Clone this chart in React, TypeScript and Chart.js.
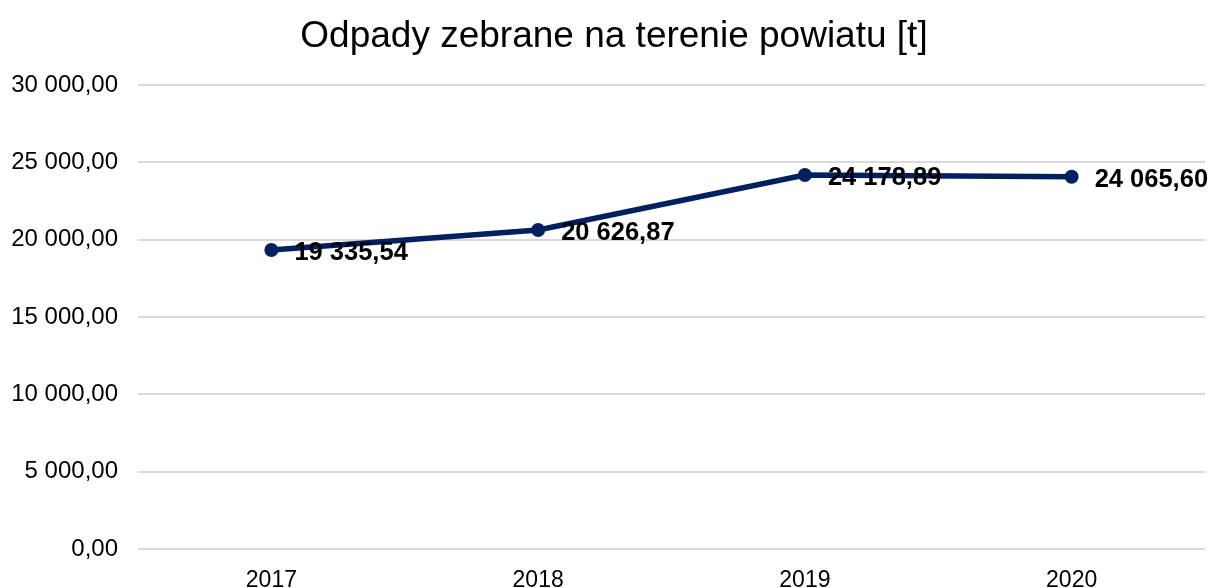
import React, { useEffect, useRef } from "react";
import { Chart, registerables } from "chart.js";

Chart.register(...registerables);

const categories = ["2017", "2018", "2019", "2020"];
const values = [19335.54, 20626.87, 24178.89, 24065.6];
const yTicks = [0, 5000, 10000, 15000, 20000, 25000, 30000];
const titleText = "Odpady zebrane na terenie powiatu [t]";

const FONT = "'Liberation Sans', Arial, sans-serif";
const NAVY = "#002060";

function fmt(v: number): string {
  const fixed = v.toFixed(2);
  const [intPart, dec] = fixed.split(".");
  const withSep = intPart.replace(/\B(?=(\d{3})+(?!\d))/g, " ");
  return withSep + "," + dec;
}

const dataLabelPlugin = {
  id: "dataLabels",
  afterDatasetsDraw(chart: any) {
    const ctx = chart.ctx;
    const meta = chart.getDatasetMeta(0);
    ctx.save();
    ctx.font = `bold 25.5px ${FONT}`;
    ctx.fillStyle = "#000000";
    ctx.textAlign = "left";
    ctx.textBaseline = "middle";
    meta.data.forEach((pt: any, i: number) => {
      ctx.fillText(fmt(values[i]), pt.x + 23, pt.y + 3);
    });
    ctx.restore();
  },
};

const titlePlugin = {
  id: "customTitle",
  afterDraw(chart: any) {
    const ctx = chart.ctx;
    ctx.save();
    ctx.font = `37px ${FONT}`;
    ctx.fillStyle = "#000000";
    ctx.textAlign = "center";
    ctx.textBaseline = "middle";
    ctx.fillText(titleText, 614, 37);
    ctx.restore();
  },
};

export default function App() {
  const ref = useRef<HTMLCanvasElement | null>(null);
  useEffect(() => {
    document.body.style.margin = "0";
    if (!ref.current) return;
    const chart = new Chart(ref.current, {
      type: "line",
      data: {
        labels: categories,
        datasets: [
          {
            data: values,
            borderColor: NAVY,
            backgroundColor: NAVY,
            borderWidth: 5.5,
            pointRadius: 7,
            pointBackgroundColor: NAVY,
            pointBorderWidth: 0,
            tension: 0,
          },
        ],
      },
      options: {
        animation: false,
        responsive: false,
        devicePixelRatio: 1,
        layout: { padding: { left: 0, right: 11, top: 85, bottom: 0 } },
        plugins: {
          legend: { display: false },
          tooltip: { enabled: false },
          title: { display: false },
        },
        scales: {
          x: {
            type: "category",
            offset: true,
            grid: { display: false, drawTicks: false },
            border: { display: false },
            ticks: {
              color: "#000000",
              font: { family: FONT, size: 23 },
              padding: 18,
              maxRotation: 0,
            },
            afterFit: (s: any) => {
              s.height = 39;
            },
          },
          y: {
            min: 0,
            max: 30000,
            grid: { color: "#d9d9d9", lineWidth: 2, drawTicks: false },
            border: { display: false },
            afterBuildTicks: (s: any) => {
              s.ticks = yTicks.map((v) => ({ value: v }));
            },
            ticks: {
              color: "#000000",
              font: { family: FONT, size: 24 },
              padding: 20,
              callback: (v: any) => fmt(Number(v)),
            },
            afterFit: (s: any) => {
              s.width = 138;
            },
          },
        },
      },
      plugins: [dataLabelPlugin, titlePlugin],
    });
    return () => chart.destroy();
  }, []);
  return (
    <div style={{ position: "absolute", left: 0, top: 0, width: 1216, height: 588, background: "#fff" }}>
      <canvas ref={ref} width={1216} height={588} style={{ width: 1216, height: 588 }} />
    </div>
  );
}
